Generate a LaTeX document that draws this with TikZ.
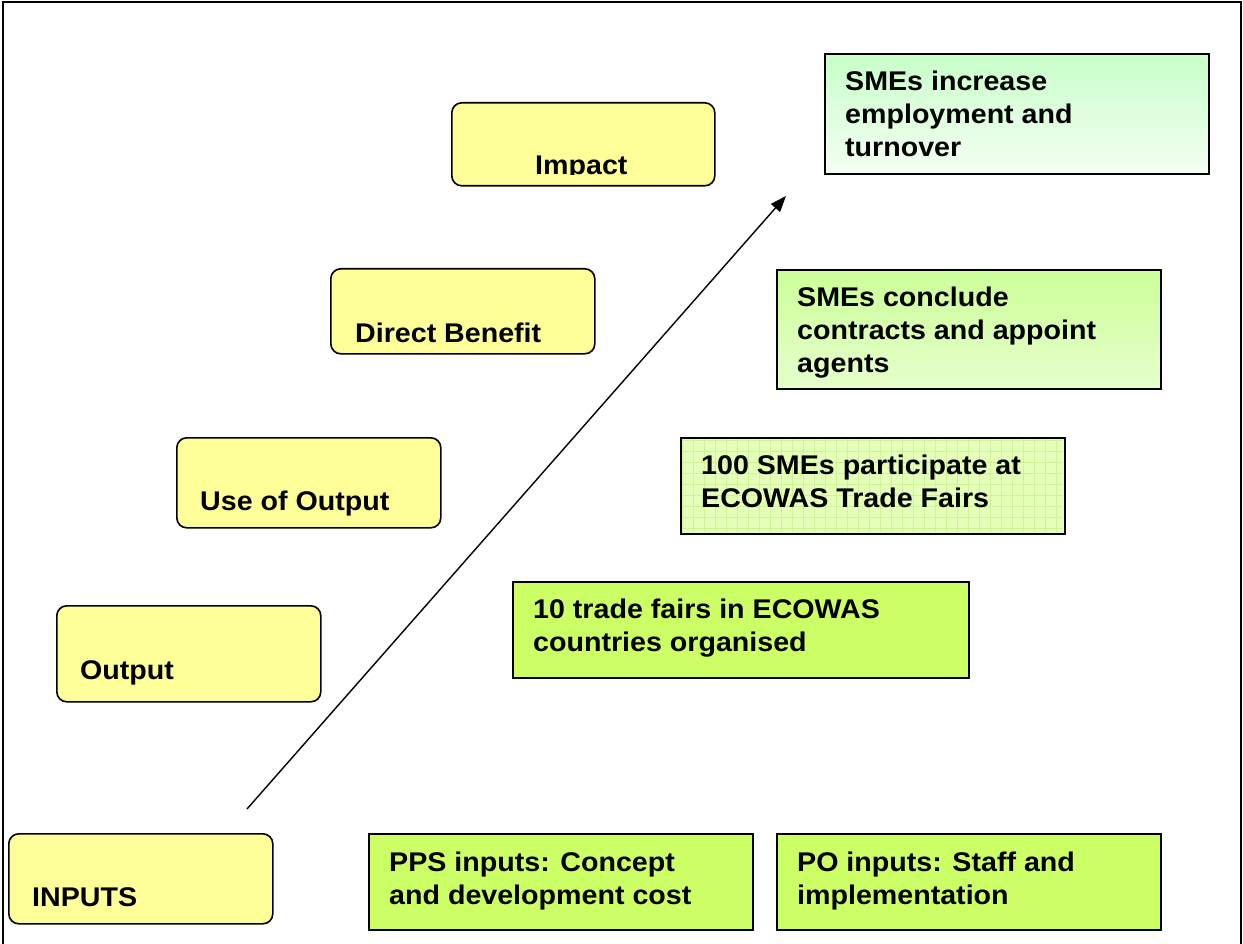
\documentclass[tikz,border=0pt]{standalone}
\usepackage{fontspec}
\setmainfont{Liberation Sans}[FakeStretch=1.06]
\usetikzlibrary{arrows.meta}
\definecolor{ylw}{HTML}{FFFF99}
\definecolor{grn}{HTML}{CCFF66}
\definecolor{mint}{HTML}{C8FFC8}
\definecolor{mintlight}{HTML}{F4FFF4}
\definecolor{lime}{HTML}{CCFF99}
\definecolor{limelight}{HTML}{E6FFCC}
\definecolor{pale}{HTML}{E4FFB8}
\definecolor{gridc}{HTML}{D0F09A}
\begin{document}
\begin{tikzpicture}[x=1pt,y=-1pt,
  ybox/.style={draw=black, line width=1.6pt, fill=ylw, rounded corners=10pt, anchor=north west, inner sep=0pt},
  gbox/.style={draw=black, line width=1.6pt, anchor=north west, inner sep=0pt},
  txt/.style={font=\fontsize{27}{33}\selectfont\bfseries, inner sep=0pt, align=left, anchor=north west},
  frame/.style={line width=2pt}]
\useasboundingbox (0,0) rectangle (1243,944);
% frame (open at bottom)
\draw[frame] (2.5,944) -- (2.5,2.5) -- (1240.5,2.5) -- (1240.5,944);

% yellow level boxes
\node[ybox, minimum width=263pt, minimum height=83pt] (impact) at (451,102) {};
\node[ybox, minimum width=264pt, minimum height=85pt] (benefit) at (330,268) {};
\node[ybox, minimum width=264pt, minimum height=90pt] (use) at (176,437) {};
\node[ybox, minimum width=264pt, minimum height=96pt] (output) at (56,605) {};
\node[ybox, minimum width=264pt, minimum height=90pt] (inputs) at (8,833) {};

\begin{scope}
  \clip (451,102) rectangle (714,174.5);
  \node[txt] (impact-t) at (535,151) {\strut Impact};
\end{scope}
\node[txt] (benefit-t) at (355,319) {\strut Direct Benefit};
\node[txt] (use-t) at (200,487) {\strut Use of Output};
\node[txt] (output-t) at (80,656) {\strut Output};
\node[txt] (inputs-t) at (32,883) {\strut INPUTS};

% green boxes
\node[gbox, top color=mint, bottom color=mintlight, minimum width=384pt, minimum height=120pt] (smeinc) at (824,53) {};
\node[txt] (smeinc-t) at (845,67) {\strut SMEs increase\\\strut employment and\\\strut turnover};

\node[gbox, top color=lime, bottom color=limelight, minimum width=384pt, minimum height=119pt] (conclude) at (776,269) {};
\begin{scope}
  \clip (776,269) rectangle (1160,377);
  \node[txt] (conclude-t) at (797,283) {\strut SMEs conclude\\\strut contracts and appoint\\\strut agents};
\end{scope}

\node[gbox, fill=pale, minimum width=384pt, minimum height=96pt] (part) at (680,437) {};
\begin{scope}
  \clip (682,439) rectangle (1062,531);
  \draw[gridc, line width=0.5pt] (680,437) grid[step=11pt] (1064,533);
\end{scope}
\node[txt] (part-t) at (701,451) {\strut 100 SMEs participate at\\\strut ECOWAS Trade Fairs};

\node[gbox, fill=grn, minimum width=456pt, minimum height=96pt] (fairs) at (512,581) {};
\node[txt] (fairs-t) at (533,595) {\strut 10 trade fairs in ECOWAS\\\strut countries organised};

\node[gbox, fill=grn, minimum width=384pt, minimum height=96pt] (pps) at (368,833) {};
\node[txt] (pps-t) at (389,848) {\strut PPS inputs: Concept\\\strut and development cost};

\node[gbox, fill=grn, minimum width=384pt, minimum height=96pt] (po) at (776,833) {};
\node[txt] (po-t) at (797,848) {\strut PO inputs: Staff and\\\strut implementation};

% arrow
\coordinate (a0) at (247,809);
\coordinate (a1) at (786,196);
\draw[line width=1.4pt, -{Triangle[length=16pt,width=12pt]}] (a0) -- (a1);
\end{tikzpicture}
\end{document}
